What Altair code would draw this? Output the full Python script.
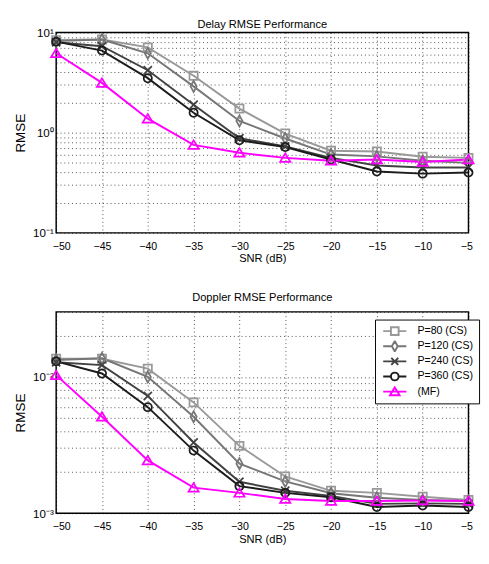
import altair as alt
import pandas as pd

FONT = "Liberation Sans, Arial"

snr = [-50, -45, -40, -35, -30, -25, -20, -15, -10, -5]
series = ["P=80 (CS)", "P=120 (CS)", "P=240 (CS)", "P=360 (CS)", "(MF)"]
colors = ["#999999", "#767676", "#424242", "#1c1c1c", "#ff00ff"]

delay_p80 = [8.4, 8.5, 7.1, 3.7, 1.74, 0.98, 0.66, 0.65, 0.575, 0.56]
delay_p120 = [8.2, 8.5, 6.2, 2.9, 1.31, 0.875, 0.605, 0.58, 0.525, 0.50]
delay_p240 = [8.0, 7.3, 4.2, 1.9, 0.88, 0.73, 0.56, 0.47, 0.45, 0.45]
delay_p360 = [8.1, 6.6, 3.5, 1.58, 0.84, 0.72, 0.54, 0.41, 0.39, 0.40]
delay_mf = [6.2, 3.14, 1.38, 0.755, 0.63, 0.56, 0.525, 0.54, 0.51, 0.54]

dop_p80 = [0.0136, 0.0136, 0.0115, 0.0065, 0.00312, 0.00186, 0.00146, 0.00141, 0.00132, 0.00125]
dop_p120 = [0.0133, 0.0137, 0.0100, 0.0051, 0.00231, 0.00171, 0.00140, 0.00130, 0.00125, 0.00123]
dop_p240 = [0.0128, 0.0122, 0.00725, 0.0033, 0.00170, 0.00146, 0.00134, 0.00117, 0.00118, 0.00117]
dop_p360 = [0.0130, 0.0106, 0.0060, 0.00288, 0.00158, 0.00141, 0.00131, 0.00111, 0.00114, 0.00111]
dop_mf = [0.0103, 0.0051, 0.00244, 0.00154, 0.00141, 0.00127, 0.00123, 0.00123, 0.00124, 0.00123]

delay_grid = [0.1, 0.2, 0.3, 0.4, 0.5, 0.6, 0.7, 0.8, 0.9, 1, 2, 3, 4, 5, 6, 7, 8, 9, 10]
dop_grid = [0.001, 0.002, 0.003, 0.004, 0.005, 0.006, 0.007, 0.008, 0.009, 0.01, 0.02, 0.03]

marker_paths = [
    "M-1,-1H1V1H-1Z",
    "M0,-1.35L0.75,0L0,1.35L-0.75,0Z",
    "M-1,-1L1,1M-1,1L1,-1",
    "M1,0A1,1,0,1,1,-1,0A1,1,0,1,1,1,0Z",
    "M0,-1.1L1.25,0.95H-1.25Z",
]
legend_paths = [
    "M-3,0H-1M1,0H3M-1,-1H1V1H-1Z",
    "M-3,0H-0.75M0.75,0H3M0,-1.35L0.75,0L0,1.35L-0.75,0Z",
    "M-3,0H3M-0.9,-0.9L0.9,0.9M-0.9,0.9L0.9,-0.9",
    "M-3,0H-1M1,0H3M1,0A1,1,0,1,1,-1,0A1,1,0,1,1,1,0Z",
    "M-3,0H3M0,-1.1L1.25,0.95H-1.25Z",
]

W = 428


def frame(vals):
    rows = []
    for name, ys in zip(series, vals):
        for s, v in zip(snr, ys):
            rows.append({"snr": s, "rmse": v, "series": name})
    return pd.DataFrame(rows)


def panel(df, title, ydom, ygrid, labelexpr, height, show_legend, title_offset):
    x = alt.X("snr:Q",
              scale=alt.Scale(domain=[-50, -5], nice=False, zero=False),
              axis=alt.Axis(values=snr, title="SNR (dB)", ticks=False, domain=False,
                            grid=True, gridDash=[1, 3], gridColor="#000", gridOpacity=0.7,
                            labelFont=FONT, labelFontSize=11, labelPadding=8,
                            labelFlush=True, labelFlushOffset=4,
                            titleFont=FONT, titleFontSize=11.5, titleFontWeight="normal",
                            titlePadding=2, labelColor="#000", titleColor="#000"))
    y = alt.Y("rmse:Q",
              scale=alt.Scale(type="log", domain=ydom, nice=False),
              axis=alt.Axis(values=ygrid, labelExpr=labelexpr, title="RMSE", ticks=False,
                            domain=False, grid=True, gridDash=[1, 3], gridColor="#000",
                            gridOpacity=0.7, labelFont=FONT, labelFontSize=12,
                            labelPadding=3, titleFont=FONT, titleFontSize=14,
                            titleFontWeight="normal", titlePadding=6,
                            labelColor="#000", titleColor="#000"))
    cscale = alt.Scale(domain=series, range=colors)
    sscale = alt.Scale(domain=series, range=marker_paths)
    base = alt.Chart(df)
    lines = base.mark_line(strokeWidth=2).encode(
        x=x, y=y, color=alt.Color("series:N", scale=cscale, sort=series, legend=None),
        order=alt.Order("snr:Q"))
    pts = base.mark_point(filled=False, strokeWidth=1.8, size=72, opacity=1).encode(
        x=x, y=y,
        color=alt.Color("series:N", scale=cscale, sort=series, legend=None),
        shape=alt.Shape("series:N", scale=sscale, sort=series, legend=None))
    layers = [lines, pts]
    if show_legend:
        leg = alt.Legend(title=None, orient="none", legendX=W - 97, legendY=8,
                         strokeColor="black", fillColor="white", padding=6,
                         symbolSize=64, symbolStrokeWidth=2, symbolOffset=9,
                         labelOffset=18, labelFont=FONT, labelFontSize=11,
                         labelColor="#000", rowPadding=3.7, clipHeight=12,
                         cornerRadius=0, symbolFillColor="transparent",
                         symbolOpacity=1)
        lscale = alt.Scale(domain=series, range=legend_paths)
        lcscale = alt.Scale(domain=series, range=colors)
        legl = base.mark_point(filled=False, strokeWidth=2, size=64, opacity=0).encode(
            x=x, y=y,
            color=alt.Color("series:N", scale=lcscale, sort=series, legend=leg),
            shape=alt.Shape("series:N", scale=lscale, sort=series, legend=leg))
        layers.append(legl)
    ch = alt.layer(*layers)
    if show_legend:
        ch = ch.resolve_scale(color="independent", shape="independent")
    return ch.properties(
        width=W, height=height,
        title=alt.TitleParams(title, font=FONT, fontSize=11.5, fontWeight="normal",
                              color="#000", offset=title_offset, anchor="middle",
                              frame="group"))


df_delay = frame([delay_p80, delay_p120, delay_p240, delay_p360, delay_mf])
df_dop = frame([dop_p80, dop_p120, dop_p240, dop_p360, dop_mf])

top = panel(df_delay, "Delay RMSE Performance", [0.1, 10], delay_grid,
            "datum.value == 10 ? '10¹' : datum.value == 1 ? '10⁰' : datum.value == 0.1 ? '10⁻¹' : ''",
            208, False, -4)
bottom = panel(df_dop, "Doppler RMSE Performance", [0.001, 0.03], dop_grid,
               "datum.value == 0.01 ? '10⁻²' : datum.value == 0.001 ? '10⁻³' : ''",
               209, True, 9)

chart = alt.vconcat(top, bottom, spacing=26).resolve_scale(
    color="independent", shape="independent").resolve_legend(
    color="independent", shape="independent").properties(
    padding={"left": 4, "top": 0, "right": 0, "bottom": 0},
    background="white").configure_view(
    stroke="black", strokeWidth=1.5)

chart.save("out.html", embed_options={"renderer": "svg", "actions": False})
